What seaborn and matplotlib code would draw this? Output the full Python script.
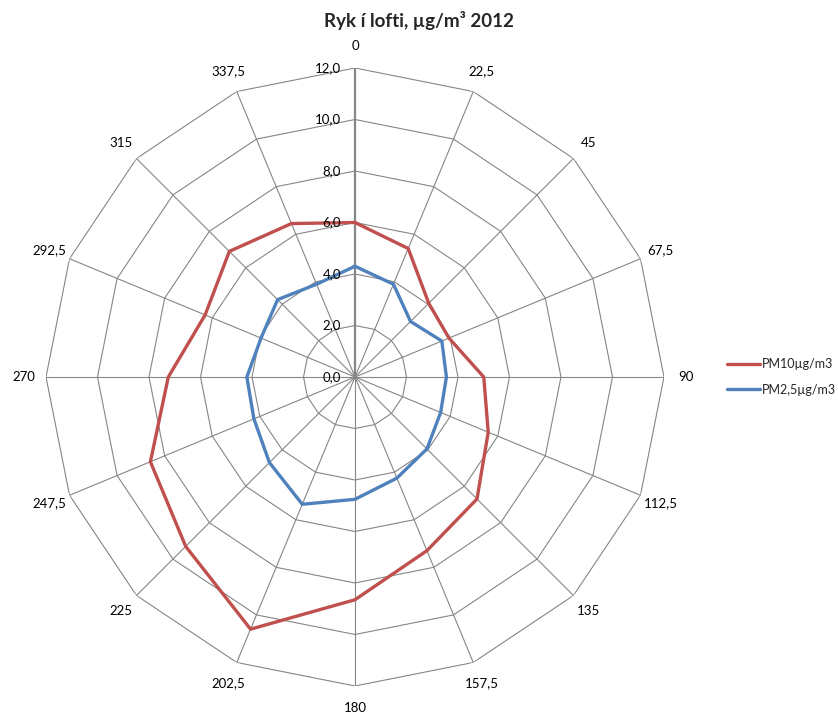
import numpy as np
import pandas as pd
import matplotlib
matplotlib.use("Agg")
import matplotlib.pyplot as plt
import seaborn as sns

# ---- data ----
directions = [0, 22.5, 45, 67.5, 90, 112.5, 135, 157.5, 180, 202.5, 225, 247.5, 270, 292.5, 315, 337.5]
direction_labels = ["0", "22,5", "45", "67,5", "90", "112,5", "135", "157,5", "180",
                    "202,5", "225", "247,5", "270", "292,5", "315", "337,5"]
pm10 = [6.0, 5.4, 4.05, 3.95, 5.0, 5.6, 6.7, 7.3, 8.65, 10.6, 9.3, 8.6, 7.25, 6.3, 6.9, 6.45]
pm25 = [4.3, 3.9, 3.05, 3.65, 3.55, 3.6, 3.95, 4.25, 4.75, 5.35, 4.7, 4.25, 4.2, 3.95, 4.25, 3.9]
series_names = ["PM10µg/m3", "PM2,5µg/m3"]
series_colors = ["#C0504D", "#4F81BD"]
radial_ticks = [0, 2, 4, 6, 8, 10, 12]
radial_labels = ["0,0", "2,0", "4,0", "6,0", "8,0", "10,0", "12,0"]
title = "Ryk í lofti, µg/m³ 2012"

sns.set_theme(style="white")
plt.rcParams["font.family"] = ["Lato", "DejaVu Sans"]

fig = plt.figure(figsize=(8.38, 7.18), dpi=100)
ax = fig.add_axes([46 / 838, 32 / 718, 618 / 838, 618 / 718], projection="polar")
ax.set_theta_zero_location("N")
ax.set_theta_direction(-1)
ax.set_ylim(0, 12)
ax.grid(False)
ax.spines["polar"].set_visible(False)
ax.set_xticks([])
ax.set_yticks([])
ax.set_facecolor("white")

theta = np.deg2rad(directions)
theta_closed = np.append(theta, theta[0] + 2 * np.pi)

grid_color = "#868686"
# polygon grid rings
for rv in radial_ticks[1:]:
    ax.plot(theta_closed, [rv] * len(theta_closed), color=grid_color, lw=0.8, zorder=1)
# spokes
for i, t in enumerate(theta):
    ax.plot([t, t], [0, 12], color=grid_color, lw=1.6 if i == 0 else 0.8, zorder=1)

# data series
rows = []
for name, vals in zip(series_names, [pm10, pm25]):
    v = list(vals) + [vals[0]]
    for t, r in zip(theta_closed, v):
        rows.append({"theta": t, "value": r, "series": name})
df = pd.DataFrame(rows)
for name, col in zip(series_names, series_colors):
    sub = df[df["series"] == name]
    sns.lineplot(data=sub, x="theta", y="value", ax=ax, sort=False, estimator=None,
                 color=col, lw=2.4, label=name, legend=False, zorder=3)
ax.set_xlabel("")
ax.set_ylabel("")

# radial labels
for rv, lab in zip(radial_ticks, radial_labels):
    ax.annotate(lab, xy=(0, rv), xytext=(-10, 0), textcoords="offset points",
                ha="right", va="center", fontsize=9.5, color="#000000", zorder=4)

# direction labels
for t, lab in zip(theta, direction_labels):
    ax.text(t, 12.85, lab, ha="center", va="center", fontsize=9.5, color="#000000",
            clip_on=False)

fig.text(0.5, 1 - 20 / 718, title, ha="center", va="center", fontsize=13.5,
         fontweight="bold")

handles = ax.get_lines()[-2:]
fig.legend(handles, series_names, loc="center left", bbox_to_anchor=(716 / 838, 1 - 377 / 718),
           frameon=False, fontsize=9, handlelength=2.6, handletextpad=0.2, labelspacing=1.1)

fig.savefig("out.png", dpi=100, facecolor="white")
